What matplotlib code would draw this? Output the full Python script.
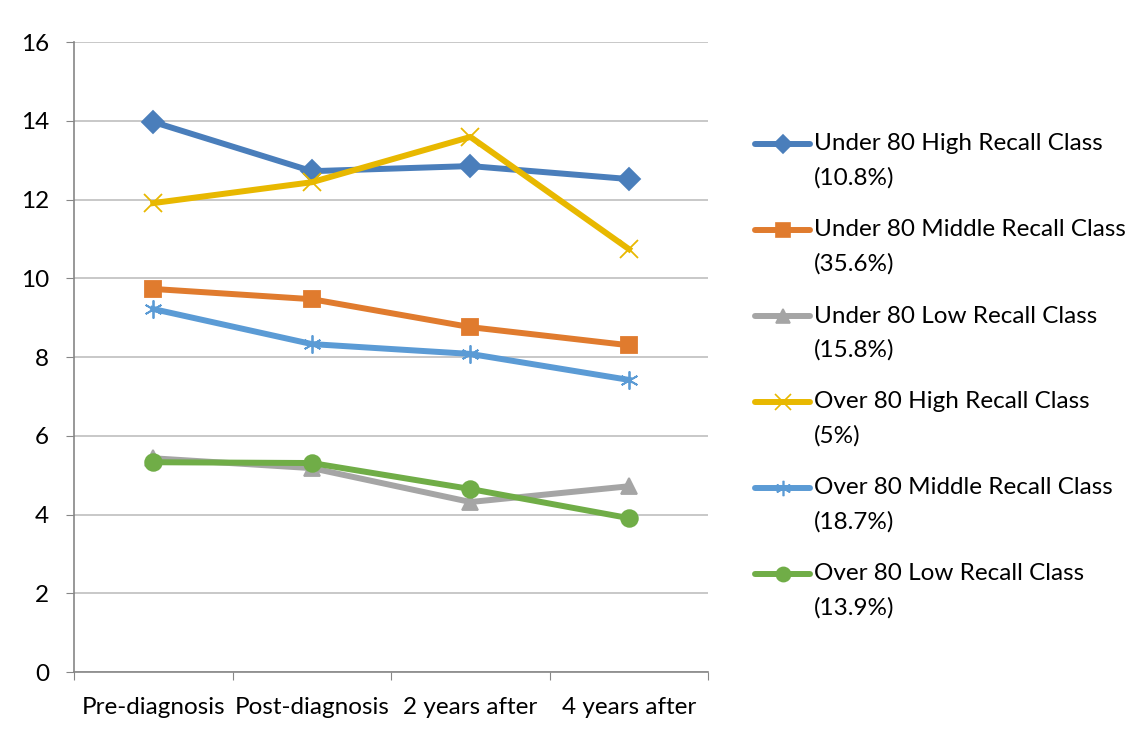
import numpy as np
import matplotlib
matplotlib.use("Agg")
import matplotlib.pyplot as plt
from matplotlib.lines import Line2D

plt.rcParams['font.family'] = ['Lato', 'DejaVu Sans']

# categories and series
categories = ["Pre-diagnosis", "Post-diagnosis", "2 years after", "4 years after"]
under80_high = [13.97, 12.72, 12.85, 12.52]
under80_middle = [9.73, 9.47, 8.76, 8.30]
under80_low = [5.43, 5.18, 4.32, 4.72]
over80_high = [11.91, 12.44, 13.59, 10.74]
over80_middle = [9.22, 8.33, 8.08, 7.42]
over80_low = [5.33, 5.31, 4.65, 3.91]

series = [
    ("Under 80 High Recall Class", "(10.8%)", under80_high, "#4A7EBB", "D", 11),
    ("Under 80 Middle Recall Class", "(35.6%)", under80_middle, "#E07B2E", "s", 12),
    ("Under 80 Low Recall Class", "(15.8%)", under80_low, "#A5A5A5", "^", 12),
    ("Over 80 High Recall Class", "(5%)", over80_high, "#E8B800", "x", 13),
    ("Over 80 Middle Recall Class", "(18.7%)", over80_middle, "#5B9BD5", (6, 2, 0), 13),
    ("Over 80 Low Recall Class", "(13.9%)", over80_low, "#70AD47", "o", 12),
]

W, H = 1147, 737
fig = plt.figure(figsize=(W / 100, H / 100), dpi=100)
ax = fig.add_axes([0.0645, 0.088, 0.553, 0.855])

x = np.arange(len(categories))
for name, pct, vals, col, mk, ms in series:
    ax.plot(x, vals, color=col, lw=4.3, marker=mk, markersize=ms,
            markeredgewidth=1.3, markeredgecolor=col, markerfacecolor=col,
            solid_joinstyle="round", zorder=3)

ax.set_xlim(-0.5, 3.5)
ax.set_ylim(0, 16)
ax.set_yticks(np.arange(0, 17, 2))
ax.grid(axis="y", color="#BFBFBF", lw=1.2)
ax.set_axisbelow(True)

# category labels sit between tick marks
ax.set_xticks(np.arange(-0.5, 4, 1))
ax.set_xticklabels([])
ax.set_xticks(x, minor=True)
ax.set_xticklabels(categories, minor=True, fontsize=17.5)
ax.tick_params(axis="x", which="minor", length=0, pad=18)
ax.tick_params(axis="x", which="major", length=6, color="#868686", direction="out")
ax.tick_params(axis="y", length=6, color="#868686", labelsize=17.5, pad=12)

for side in ["top", "right"]:
    ax.spines[side].set_visible(False)
for side in ["left", "bottom"]:
    ax.spines[side].set_color("#868686")
    ax.spines[side].set_linewidth(1.2)

# legend drawn by hand: handle lines up with the first line of each label
for i, (name, pct, vals, col, mk, ms) in enumerate(series):
    yc = 144 + i * 86
    fy = 1 - yc / H
    fig.add_artist(Line2D([755 / W, 810 / W], [fy, fy], transform=fig.transFigure,
                          color=col, lw=4.3, solid_capstyle="round"))
    fig.add_artist(Line2D([783 / W], [fy], transform=fig.transFigure, color=col,
                          marker=mk, markersize=ms * 0.85, markeredgewidth=1.2,
                          markeredgecolor=col, markerfacecolor=col))
    fig.text(814 / W, fy, name, fontsize=17.5, va="center", ha="left")
    fig.text(814 / W, 1 - (yc + 34) / H, pct, fontsize=17.5, va="center", ha="left")

fig.savefig("out.png", dpi=100)
